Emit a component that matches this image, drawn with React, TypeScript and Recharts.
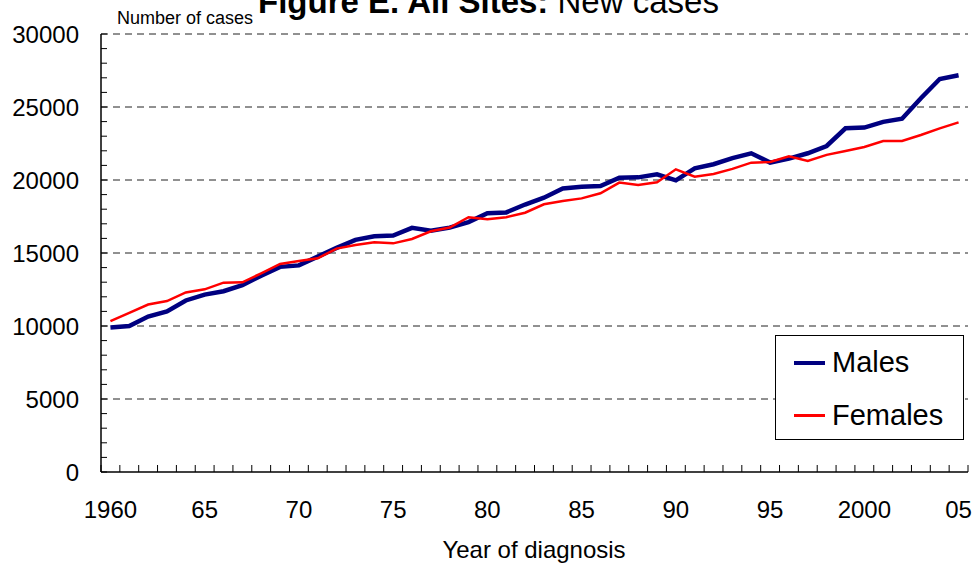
import React from 'react';
import { LineChart, Line, XAxis, YAxis, CartesianGrid, Legend } from 'recharts';

const YEARS = [
  1960, 1961, 1962, 1963, 1964, 1965, 1966, 1967, 1968, 1969,
  1970, 1971, 1972, 1973, 1974, 1975, 1976, 1977, 1978, 1979,
  1980, 1981, 1982, 1983, 1984, 1985, 1986, 1987, 1988, 1989,
  1990, 1991, 1992, 1993, 1994, 1995, 1996, 1997, 1998, 1999,
  2000, 2001, 2002, 2003, 2004, 2005,
];

const MALES = [
  9900, 10000, 10650, 11000, 11750, 12150, 12380, 12800, 13450, 14050,
  14150, 14750, 15350, 15900, 16150, 16200, 16720, 16530, 16740, 17120,
  17720, 17780, 18320, 18790, 19420, 19540, 19590, 20160, 20180, 20390,
  19980, 20800, 21080, 21500, 21830, 21190, 21460, 21830, 22330, 23540,
  23590, 23980, 24200, 25600, 26920, 27170,
];

const FEMALES = [
  10340, 10900, 11470, 11710, 12300, 12510, 12970, 12990, 13610, 14250,
  14450, 14640, 15300, 15550, 15730, 15660, 15960, 16490, 16740, 17450,
  17310, 17450, 17760, 18340, 18560, 18740, 19090, 19820, 19660, 19840,
  20730, 20230, 20410, 20760, 21190, 21240, 21630, 21300, 21720, 21990,
  22260, 22670, 22670, 23080, 23540, 23950,
];

const X_LABEL_YEARS = [1960, 1965, 1970, 1975, 1980, 1985, 1990, 1995, 2000, 2005];
const X_LABELS = ['1960', '65', '70', '75', '80', '85', '90', '95', '2000', '05'];
const Y_LABELS = [0, 5000, 10000, 15000, 20000, 25000, 30000];
const Y_GRID = [5000, 10000, 15000, 20000, 25000, 30000];
const LEGEND_ORDER = ['Males', 'Females'];

const FONT = '"Liberation Sans", Arial, sans-serif';

const data = YEARS.map((year, i) => ({ year, males: MALES[i], females: FEMALES[i] }));

// tick marks sit between the years, labels on the year itself
const xBoundaries = [YEARS[0] - 0.5, ...YEARS.map((y) => y + 0.5)];
const xTicks = [...xBoundaries, ...X_LABEL_YEARS].sort((a, b) => a - b);
const yTicks: number[] = [];
for (let v = 0; v <= 30000; v += 1000) yTicks.push(v);

const Y_MARGIN = 22;
const X_MARGIN = 30;

const YTick = (props: any) => {
  const { x, y, payload } = props;
  const axisX = x + Y_MARGIN;
  const isMajor = Y_LABELS.includes(payload.value);
  return (
    <g>
      <line x1={axisX} x2={axisX + 6} y1={y} y2={y} stroke="#000" strokeWidth={1} />
      {isMajor && (
        <text x={x} y={y + 8.5} textAnchor="end" fontSize={24} fontFamily={FONT} fill="#000">
          {payload.value}
        </text>
      )}
    </g>
  );
};

const XTick = (props: any) => {
  const { x, y, payload } = props;
  const axisY = y - X_MARGIN;
  const idx = X_LABEL_YEARS.indexOf(payload.value);
  if (idx >= 0) {
    return (
      <text x={x} y={axisY + 46} textAnchor="middle" fontSize={24} fontFamily={FONT} fill="#000">
        {X_LABELS[idx]}
      </text>
    );
  }
  return <line x1={x} x2={x} y1={axisY} y2={axisY - 7} stroke="#000" strokeWidth={1} />;
};

const LegendBox = (props: any) => {
  const items = [...(props.payload || [])].sort(
    (a: any, b: any) => LEGEND_ORDER.indexOf(a.value) - LEGEND_ORDER.indexOf(b.value)
  );
  return (
    <div
      style={{
        width: 189,
        height: 105,
        background: '#fff',
        border: '1px solid #000',
        boxSizing: 'border-box',
        fontFamily: FONT,
      }}
    >
      {items.map((item: any) => (
        <div key={item.value} style={{ display: 'flex', alignItems: 'center', height: 53 }}>
          <div
            style={{
              marginLeft: 18,
              width: 31,
              height: item.value === 'Males' ? 4 : 3,
              background: item.color,
            }}
          />
          <span style={{ marginLeft: 7, fontSize: 29, color: '#000' }}>{item.value}</span>
        </div>
      ))}
    </div>
  );
};

export default function App() {
  return (
    <div style={{ position: 'absolute', left: 0, top: 0, width: 978, height: 572, background: '#fff' }}>
      <LineChart
        width={978}
        height={572}
        data={data}
        margin={{ top: 34, right: 10, bottom: 40, left: 0 }}
      >
        <CartesianGrid
          vertical={false}
          horizontalValues={Y_GRID}
          stroke="#222"
          strokeDasharray="7 5"
        />
        <XAxis
          dataKey="year"
          type="number"
          domain={[1959.5, 2005.5]}
          ticks={xTicks}
          interval={0}
          height={60}
          tickSize={0}
          tickMargin={X_MARGIN}
          tickLine={false}
          axisLine={{ stroke: '#000', strokeWidth: 1.5 }}
          tick={<XTick />}
        />
        <YAxis
          type="number"
          domain={[0, 30000]}
          ticks={yTicks}
          interval={0}
          width={101}
          tickSize={0}
          tickMargin={Y_MARGIN}
          tickLine={false}
          axisLine={{ stroke: '#000', strokeWidth: 1.5 }}
          tick={<YTick />}
        />
        <Legend
          layout="horizontal"
          verticalAlign="middle"
          align="center"
          content={<LegendBox />}
          wrapperStyle={{ left: 775, top: 335, width: 189, height: 105 }}
        />
        <Line
          type="linear"
          dataKey="males"
          name="Males"
          stroke="#000080"
          strokeWidth={4.5}
          dot={false}
          isAnimationActive={false}
        />
        <Line
          type="linear"
          dataKey="females"
          name="Females"
          stroke="#ff0000"
          strokeWidth={2.5}
          dot={false}
          isAnimationActive={false}
        />
      </LineChart>
      <svg
        width={978}
        height={572}
        style={{ position: 'absolute', left: 0, top: 0, pointerEvents: 'none' }}
      >
        <text x={258} y={13} fontSize={33} fontFamily={FONT} fill="#000">
          <tspan fontWeight="bold">Figure E. All Sites:</tspan>
          <tspan> New cases</tspan>
        </text>
        <text x={117} y={24} fontSize={18} fontFamily={FONT} fill="#000">
          Number of cases
        </text>
        <text x={534} y={558} textAnchor="middle" fontSize={24} fontFamily={FONT} fill="#000">
          Year of diagnosis
        </text>
      </svg>
    </div>
  );
}
